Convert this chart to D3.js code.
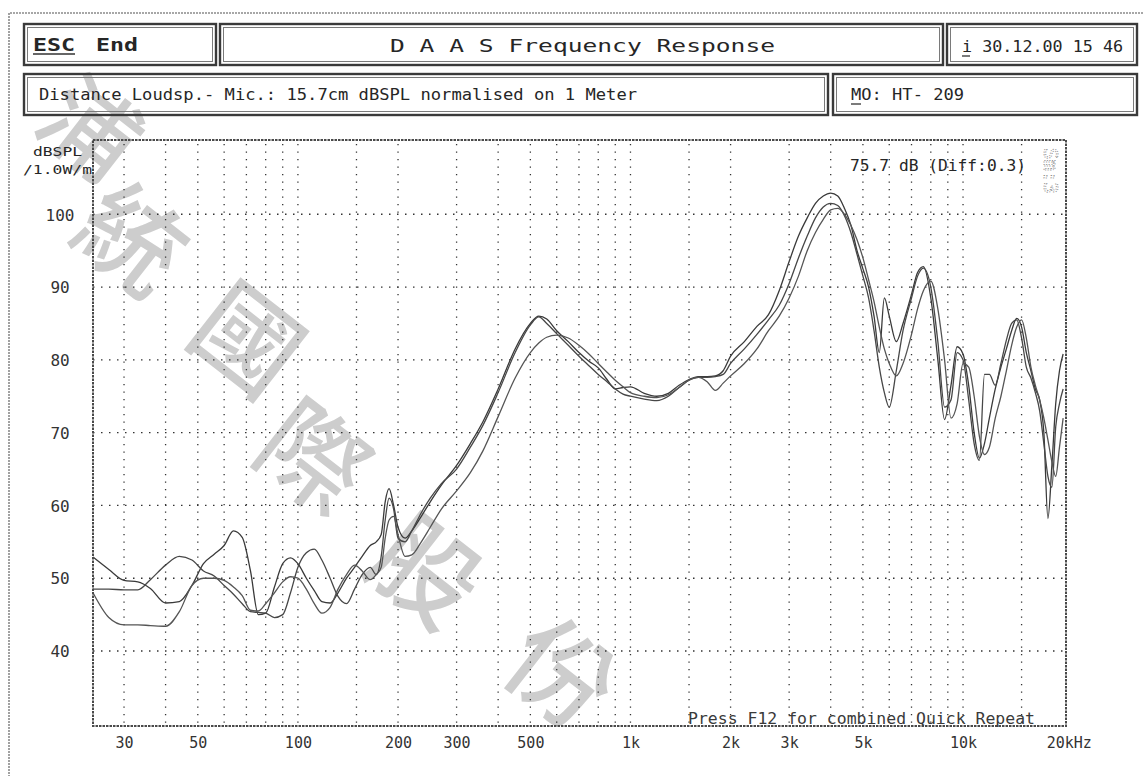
<!DOCTYPE html>
<html><head><meta charset="utf-8">
<script src="https://cdn.jsdelivr.net/npm/d3@7"></script>
<style>
html,body{margin:0;padding:0;background:#fff;}
svg{display:block;}
text{font-family:"DejaVu Sans Mono","Liberation Mono",monospace;fill:#262626;}
</style></head><body>
<svg id="c" width="1143" height="776"></svg>
<script>
// ---------- DATA ----------
const freqs = [
  24.2, 27, 30, 33, 36, 40, 44, 48, 52, 56, 60, 64, 68, 72, 76, 80, 85, 90, 95, 100,
  106, 112, 118, 125, 132, 140, 148, 156, 165, 172, 178, 183, 188, 194, 200, 210, 220, 235, 250, 270,
  300, 330, 360, 400, 450, 500, 530, 560, 600, 650, 700, 750, 800, 850, 900, 950, 1000,
  1100, 1200, 1300, 1400, 1500, 1600, 1700, 1800, 1900, 2000, 2200, 2400, 2600, 2800, 3000, 3200, 3400, 3600, 3800, 4000,
  4200, 4400, 4600, 4800, 5000, 5200, 5400, 5600, 5800, 6000, 6300, 6600, 7000, 7300, 7600, 8000, 8400, 8800, 9200, 9600, 10000,
  10400, 10800, 11200, 11600, 12000, 12500, 13000, 13500, 14000, 14500, 15000, 15500, 16000, 16500, 17000, 17500, 18000, 18500, 19000, 19500, 20000
];
const trace1 = [
  52.9, 51.2, 49.7, 49.5, 48.6, 46.6, 46.8, 49.0, 52.0, 53.3, 54.5, 56.5, 55.6, 51.0, 45.0, 45.2, 48.8, 52.0, 52.8, 52.0,
  50.0, 48.3, 46.8, 46.6, 48.0, 50.0, 51.5, 53.0, 54.5, 55.0, 56.0, 60.5, 62.3, 60.0, 57.0, 55.5, 56.5, 58.5, 60.5, 62.8,
  65.5, 68.5, 71.5, 76.0, 81.5, 85.0, 86.0, 85.6, 84.0, 82.5, 81.0, 79.8, 78.9, 77.3, 76.0, 76.2, 76.3,
  75.4, 75.0, 75.4, 76.5, 77.3, 77.7, 77.7, 77.8, 78.5, 80.5, 82.5, 84.6, 86.2, 89.5, 93.5, 97.0, 99.5, 101.5, 102.5, 102.9,
  102.5, 100.8, 98.5, 95.0, 92.5, 90.0, 86.0, 81.0, 88.5, 86.0, 82.5, 85.0, 89.0, 92.0, 92.8, 88.5, 80.0, 71.8, 76.5, 81.8, 80.8,
  76.5, 70.0, 66.5, 68.5, 72.0, 76.0, 79.0, 81.5, 84.0, 85.7, 84.5, 81.0, 78.5, 76.0, 74.5, 70.0, 58.2, 65.5, 74.0, 78.5, 80.8
];
const trace2 = [
  48.5, 48.5, 48.4, 48.4, 49.8, 51.8, 53.0, 52.5, 51.0, 50.3, 49.0, 47.8, 46.5, 45.4, 45.3, 45.2, 44.6, 45.0, 48.0, 51.5,
  53.5, 54.0, 52.5, 50.0, 47.5, 46.5, 48.5, 50.5, 51.5, 50.5, 53.0, 58.0, 61.0, 59.5, 55.5, 55.0, 56.5, 59.0, 61.0, 63.0,
  65.0, 68.0, 71.0, 75.5, 81.0, 84.8, 85.9, 85.0, 83.6, 82.0, 80.5, 79.2, 78.0, 77.0, 76.0, 75.3, 75.0,
  74.6, 74.4, 75.0, 76.2, 77.2, 77.6, 77.6, 77.7, 78.0, 79.5, 81.5, 83.5, 85.5, 87.5, 90.5, 94.0, 97.0, 99.5, 101.0, 101.5,
  101.2, 99.8, 97.5, 94.5, 91.5, 88.5, 84.0, 79.0, 75.5, 73.5, 78.5, 84.0, 88.5, 91.5, 92.6, 90.0, 82.5, 73.5, 74.5, 81.0, 80.0,
  74.5, 68.5, 66.2, 78.0, 78.0, 76.5, 79.5, 82.7, 85.0, 85.5, 83.0, 79.0, 77.5, 75.5, 73.0, 68.5, 64.0, 62.5, 70.8, 74.0, 76.0
];
const trace3 = [
  48.0, 44.6, 43.6, 43.6, 43.5, 43.4, 45.4, 49.0, 50.0, 50.0, 49.7, 48.8, 47.6, 45.6, 45.5, 46.5, 48.0, 49.5, 50.2, 50.0,
  48.5, 46.5, 45.2, 46.0, 48.5, 50.5, 51.8, 51.0, 49.8, 50.5, 51.5, 55.5, 58.0, 58.5, 56.0, 53.0, 53.2, 55.0, 57.0, 59.5,
  62.0, 64.5, 67.5, 72.2, 77.5, 81.0, 82.3, 83.1, 83.4, 83.0, 82.0, 80.8, 79.5, 78.3, 77.2, 76.3, 75.5,
  75.0, 74.8, 75.2, 76.2, 77.2, 77.6, 77.0, 75.8, 76.8, 77.8, 79.5, 81.5, 84.0, 86.0, 88.5, 91.5, 95.0, 97.5, 99.3, 100.6,
  100.8, 100.0, 98.5, 96.5, 94.0, 91.0, 88.0, 84.5, 81.5, 79.5, 77.8, 79.5, 83.5, 87.0, 89.5, 90.8, 87.0, 80.0, 72.0, 74.0, 79.5,
  79.0, 75.0, 69.5, 67.0, 68.0, 72.0, 75.0, 78.5, 82.0, 84.5, 85.5, 83.0, 79.0, 76.5, 74.5, 72.0, 69.0, 66.0, 64.0, 68.0, 72.0
];
const yTicks = [40, 50, 60, 70, 80, 90, 100];
const xTickValues = [30, 50, 100, 200, 300, 500, 1000, 2000, 3000, 5000, 10000, 20000];
const xTickLabels = ["30", "50", "100", "200", "300", "500", "1k", "2k", "3k", "5k", "10k", "20kHz"];
const xGrid = [30, 40, 50, 60, 70, 80, 90, 100, 150, 200, 300, 400, 500, 600, 700, 800, 900, 1000,
               1500, 2000, 3000, 4000, 5000, 6000, 7000, 8000, 9000, 10000, 15000];
const watermarkChars = ["浦", "統", "國", "際", "股", "份"];
const titleText = "D A A S  Frequency Response";
const infoText = "Distance Loudsp.- Mic.: 15.7cm dBSPL normalised on 1 Meter";
const dateText = "i 30.12.00 15 46";
const modelText = "MO: HT- 209";
const levelText = "75.7 dB (Diff:0.3)";
const footText = "Press F12 for combined Quick Repeat";

// ---------- LAYOUT ----------
const svg = d3.select("#c");
const L = 93, R = 1066, T = 140, B = 726;
const x = d3.scaleLog().domain([24.2, 20400]).range([L, R]);
const y = d3.scaleLinear().domain([29.7, 110.2]).range([B, T]);

svg.append("rect").attr("width", 1143).attr("height", 776).attr("fill", "#fff");

// page outline
svg.append("line").attr("x1", 10).attr("x2", 1143).attr("y1", 13).attr("y2", 13)
  .attr("stroke", "#8a8a8a").attr("stroke-width", 1.6).attr("stroke-dasharray", "2 1");
svg.append("line").attr("x1", 9).attr("x2", 9).attr("y1", 13).attr("y2", 776)
  .attr("stroke", "#8a8a8a").attr("stroke-width", 1.6).attr("stroke-dasharray", "2 1");

// watermark (under everything else)
const wmPos = [[94, 124], [136, 234], [252, 334], [318, 452], [430, 566], [566, 668]];
const wmSize = [96, 104, 104, 104, 104, 104];
const wm = svg.append("g");
watermarkChars.forEach((ch, i) => {
  wm.append("text").text(ch)
    .attr("transform", `translate(${wmPos[i][0]},${wmPos[i][1]}) rotate(38)`)
    .attr("text-anchor", "middle").attr("dominant-baseline", "central")
    .style("font-family", '"Noto Sans CJK TC","Noto Sans CJK SC",sans-serif')
    .style("font-weight", 500).style("font-size", wmSize[i] + "px")
    .style("fill", "#cdcdcd");
});

// header boxes
function box(x0, y0, x1, y1) {
  svg.append("rect").attr("x", x0).attr("y", y0).attr("width", x1 - x0).attr("height", y1 - y0)
    .attr("fill", "none").attr("stroke", "#3a3a3a").attr("stroke-width", 2.4);
  svg.append("rect").attr("x", x0 + 3.5).attr("y", y0 + 3.5).attr("width", x1 - x0 - 7).attr("height", y1 - y0 - 7)
    .attr("fill", "none").attr("stroke", "#7a7a7a").attr("stroke-width", 1);
}
box(24, 24, 216, 65);
box(220, 24, 943, 65);
box(947, 24, 1137, 65);
box(24, 74, 828, 115);
box(833, 74, 1137, 115);

function txt(s, x0, yb, size, len, extra) {
  const t = svg.append("text").text(s).attr("x", x0).attr("y", yb).style("font-size", size + "px");
  if (len) t.attr("textLength", len).attr("lengthAdjust", "spacingAndGlyphs");
  if (extra) extra(t);
  return t;
}
txt("ESC", 33, 51, 17, 42, t => t.style("font-weight", 700));
txt("End", 96, 51, 17, 42, t => t.style("font-weight", 700));
svg.append("line").attr("x1", 33).attr("x2", 75).attr("y1", 54).attr("y2", 54).attr("stroke", "#333").attr("stroke-width", 1.5);
txt(titleText, 390, 52, 17, 385);
txt(dateText, 962, 52, 16, 161);
svg.append("line").attr("x1", 962).attr("x2", 970).attr("y1", 56).attr("y2", 56).attr("stroke", "#333").attr("stroke-width", 1.3);
txt(infoText, 39, 100, 16, 598);
txt(modelText, 851, 100, 16, 113);
svg.append("line").attr("x1", 851).attr("x2", 861).attr("y1", 104).attr("y2", 104).attr("stroke", "#333").attr("stroke-width", 1.3);

// grid
const grid = svg.append("g");
grid.selectAll("line.v").data(xGrid).join("line")
  .attr("x1", d => x(d)).attr("x2", d => x(d)).attr("y1", T + 4).attr("y2", B)
  .attr("stroke", "#333").attr("stroke-width", 1.3).attr("stroke-dasharray", "1.3 6.2");
grid.selectAll("line.h").data(yTicks).join("line")
  .attr("x1", L).attr("x2", R).attr("y1", d => y(d)).attr("y2", d => y(d))
  .attr("stroke", "#333").attr("stroke-width", 1.3).attr("stroke-dasharray", "1.5 6.5");

// curves
const line = d3.line().x(d => x(d[0])).y(d => y(d[1])).curve(d3.curveMonotoneX);
const traces = [trace1, trace2, trace3];
const colors = ["#3a3a3a", "#474747", "#555"];
traces.forEach((tr, i) => {
  const pts = freqs.map((f, j) => [f, tr[j]]).filter(p => p[1] != null);
  svg.append("path").datum(pts).attr("d", line)
    .attr("fill", "none").attr("stroke", colors[i]).attr("stroke-width", 1.3)
    .attr("stroke-linejoin", "round");
});

// frame
svg.append("rect").attr("x", L).attr("y", T).attr("width", R - L).attr("height", B - T)
  .attr("fill", "none").attr("stroke", "#4a4a4a").attr("stroke-width", 2).attr("stroke-dasharray", "2.5 1");

// axes
const xAxis = d3.axisBottom(x).tickValues(xTickValues).tickSize(0)
  .tickFormat((d, i) => xTickLabels[i]);
const gx = svg.append("g").attr("transform", `translate(0,${B})`).call(xAxis);
gx.select(".domain").remove();
gx.selectAll("text").attr("y", 22).attr("dy", 0)
  .style("font-family", '"DejaVu Sans Mono",monospace').style("font-size", "15px").style("fill", "#333");
gx.selectAll("text").filter((d, i) => i === xTickValues.length - 1)
  .attr("text-anchor", "start").attr("x", -17);

const yAxis = d3.axisLeft(y).tickValues(yTicks).tickSize(0);
const gy = svg.append("g").attr("transform", `translate(${L},0)`).call(yAxis);
gy.select(".domain").remove();
gy.selectAll("text").attr("x", -33).attr("dy", "0.36em").attr("text-anchor", "middle")
  .style("font-family", '"DejaVu Sans Mono",monospace').style("font-size", "16px").style("fill", "#333");

txt("dBSPL", 33, 156, 13, 49);
txt("/1.0W/m", 23, 174, 13, 69);
txt(levelText, 850, 171, 15, 176);
txt(footText, 688, 724, 15, 347, t => t.style("fill", "#3a3a3a"));

// vertical dotted label at top right
svg.append("text").text("Sm:3")
  .attr("transform", "translate(1044,148) rotate(90)")
  .style("font-size", "19px").style("fill", "none").style("stroke", "#8a8a8a")
  .style("stroke-width", 1).style("stroke-dasharray", "1 1.5");
</script>
</body></html>
